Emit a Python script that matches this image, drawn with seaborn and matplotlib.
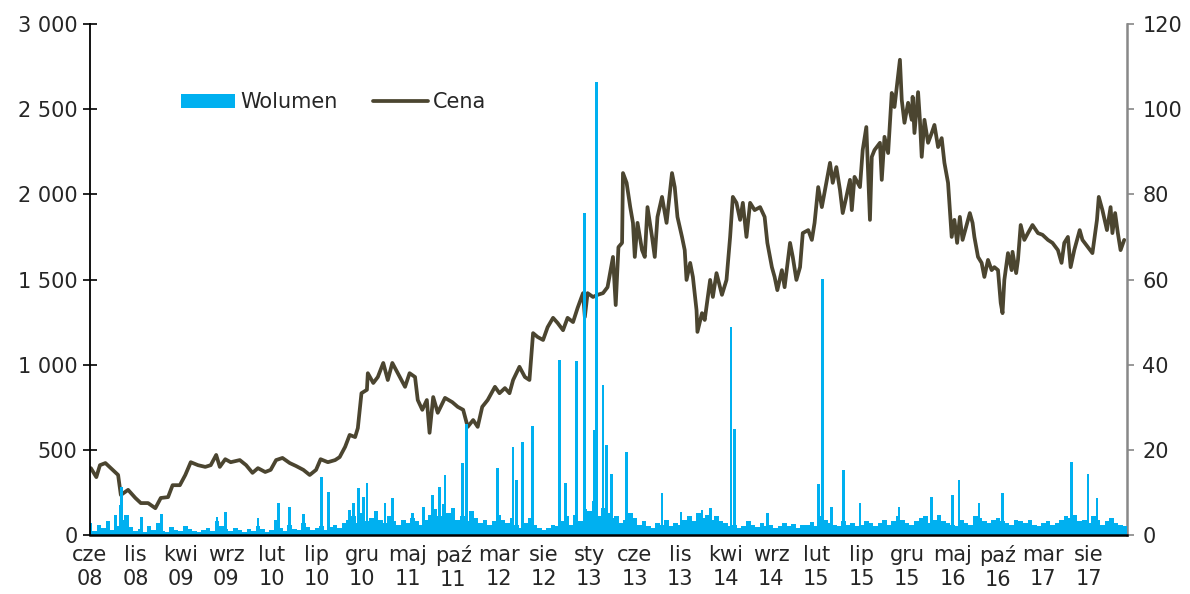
import numpy as np
import matplotlib
matplotlib.use("Agg")
import matplotlib.pyplot as plt
import seaborn as sns
from matplotlib.patches import Patch
from matplotlib.lines import Line2D

# time axis: months counted from June 2008
price_month = [
    0.1, 0.7, 1.1, 1.7, 2.3, 3.1, 3.4, 4.2, 5.0, 5.6, 6.4, 7.2, 7.8, 8.6, 9.1,
    9.9, 10.5, 11.1, 11.9, 12.7, 13.3, 13.9, 14.3, 14.9, 15.5, 16.5, 17.2, 17.9, 18.5, 19.3,
    19.9, 20.5, 21.2, 22.0, 22.7, 23.5, 24.2, 24.9, 25.4, 26.2, 27.0, 27.5, 28.1, 28.6, 29.2,
    29.5, 29.9, 30.5, 30.6, 31.2, 31.7, 32.3, 32.8, 33.3, 33.9, 34.7, 35.2, 35.8, 36.1, 36.6,
    37.1, 37.4, 37.8, 38.3, 39.1, 39.9, 40.5, 41.1, 41.6, 42.2, 42.7, 43.2, 43.8, 44.6, 45.1,
    45.7, 46.2, 46.6, 47.3, 47.9, 48.4, 48.8, 49.3, 49.9, 50.4, 51.0, 51.5, 52.1, 52.6, 53.2,
    53.7, 54.3, 54.5, 54.8, 55.4, 55.9, 56.5, 57.0, 57.6, 57.9, 58.2,
    58.6, 58.7, 59.1, 59.5, 59.8, 60.0, 60.3, 60.8, 61.1, 61.4, 61.9, 62.2, 62.5, 63.0, 63.5,
    64.1, 64.4, 64.7, 65.2, 65.5, 65.7, 66.1, 66.4, 66.8, 66.9, 67.4, 67.7, 68.3, 68.6, 69.0,
    69.6, 70.1, 70.5, 70.8, 71.2, 71.6, 71.9, 72.3, 72.7, 73.2, 73.8, 74.3, 74.6, 75.1, 75.4,
    75.7, 76.2, 76.5, 77.1, 77.4, 77.8, 78.2, 78.5, 79.1, 79.5, 79.8, 80.2, 80.6, 81.1, 81.5,
    81.8, 82.2, 82.6, 82.9, 83.3, 83.7, 83.9, 84.2, 84.8, 85.1, 85.5, 85.9, 86.1, 86.4, 87.0,
    87.2, 87.5, 87.9, 88.3, 88.6,
    88.9, 89.2, 89.4, 89.7, 90.1, 90.5, 90.6, 90.8, 91.2, 91.4, 91.6, 91.9, 92.3, 92.7, 93.0,
    93.4, 93.8, 94.1, 94.5, 94.7, 94.9, 95.2, 95.5, 95.8, 96.1, 96.6, 96.9, 97.2, 97.4, 97.8,
    98.2, 98.5, 98.9, 99.3, 99.6, 100.0, 100.3, 100.5, 100.7, 101.1, 101.5, 101.6, 102.0, 102.2, 102.5,
    102.9, 103.3, 103.8, 104.4, 104.9, 105.5, 106.0, 106.6, 107.0, 107.3, 107.7, 108.0, 108.4, 109.0, 109.3,
    109.9, 110.4, 110.9, 111.1, 111.5, 112.0, 112.4, 112.6, 112.9, 113.2, 113.5, 113.9,
]
price = [
    15.7, 13.6, 16.4, 16.9, 15.7, 14.1, 9.4, 10.6, 8.7, 7.5, 7.5, 6.3, 8.7, 8.9, 11.7,
    11.7, 14.1, 17.1, 16.4, 16.0, 16.4, 18.8, 16.0, 17.8, 17.1, 17.6, 16.4, 14.6, 15.7, 14.8,
    15.3, 17.6, 18.1, 16.9, 16.2, 15.3, 14.1, 15.3, 17.8, 17.1, 17.6, 18.3, 20.7, 23.5, 23.0,
    25.1, 33.3, 34.1, 38.0, 35.7, 37.1, 40.4, 36.4, 40.4, 38.0, 34.8, 38.0, 37.1, 31.7, 29.4,
    31.7, 24.0, 32.4, 28.7, 32.2, 31.2, 30.1, 29.4, 25.4, 27.0, 25.4, 30.1, 31.7, 34.8, 33.3,
    34.5, 33.3, 36.4, 39.5, 37.1, 36.4, 47.4, 46.5, 45.8, 48.8, 51.0, 49.8, 48.1, 51.0, 50.0,
    53.3, 56.8, 51.2, 56.8, 55.9, 56.4, 56.8, 58.2, 65.3, 54.0, 67.6,
    68.6, 85.0, 82.7, 77.0, 73.3, 65.3, 73.3, 66.9, 65.3, 77.0, 70.0, 65.3, 74.7, 79.4, 73.3,
    85.0, 81.7, 74.7, 70.0, 66.9, 59.9, 63.9, 60.6, 52.8, 47.7, 52.1, 50.5, 59.9, 55.9, 61.5,
    56.4, 59.9, 70.0, 79.4, 78.0, 74.0, 78.0, 70.0, 78.0, 76.3, 77.0, 74.7, 68.6, 62.9, 60.6,
    57.5, 62.2, 58.2, 68.6, 65.3, 59.9, 62.9, 70.9, 71.6, 69.3, 73.3, 81.7, 77.0, 82.7, 87.4,
    82.7, 86.4, 81.0, 75.6, 79.4, 83.4, 76.3, 84.1, 81.7, 90.4, 95.8, 74.0, 88.8, 90.4, 92.1,
    83.4, 93.5, 89.7, 103.8, 100.5,
    106.0, 111.6, 102.2, 96.8, 101.5, 97.5, 102.9, 94.4, 104.0, 97.5, 88.8, 97.5, 92.1, 94.4, 96.3,
    91.1, 93.2, 87.4, 82.7, 76.3, 70.0, 74.0, 68.6, 74.7, 69.3, 73.3, 75.6, 73.3, 70.0, 65.3,
    63.9, 60.6, 64.6, 62.2, 62.9, 62.2, 54.5, 52.1, 59.9, 66.2, 62.2, 66.5, 61.5, 64.6, 72.8,
    69.3, 70.9, 72.8, 70.9, 70.5, 69.3, 68.6, 66.9, 63.9, 68.6, 70.0, 62.9, 66.9, 71.6, 69.3,
    67.6, 66.2, 74.0, 79.4, 76.3, 71.6, 77.0, 70.9, 75.6, 70.9, 66.9, 69.3,
]

# background volume, two readings per month (1st and 15th) from June 2008
base_vol = [
    70, 25, 60, 40, 85, 30, 55, 90, 120, 45, 25, 35, 20, 50,
    30, 70, 25, 20, 45, 30, 25, 55, 35, 25, 20, 30, 40, 25, 80, 50, 35, 25, 40, 30, 20, 35, 25, 50,
    35, 20, 30, 90, 40, 25, 60, 35, 30, 70, 45, 30, 40, 55, 30, 45, 60, 40, 70, 90, 110, 70, 130, 85,
    100, 140, 90, 70, 110, 80, 60, 90, 70, 100, 80, 60, 90, 120, 150, 110, 180, 130, 160, 90, 110, 80, 140, 100,
    70, 90, 60, 80, 120, 90, 70, 100, 60, 40, 70, 100, 60, 40, 30, 40, 60, 50, 80, 110, 60, 120, 80, 150,
    140, 200, 110, 160, 130, 100, 110, 70, 90, 130, 100, 60, 80, 50, 40, 70, 60, 90, 50, 70, 60, 90, 110, 80,
    130, 100, 120, 90, 110, 80, 70, 50, 60, 40, 55, 80, 60, 45, 70, 50, 60, 40, 55, 70, 50, 65, 40, 60,
    60, 75, 50, 110, 90, 70, 60, 50, 80, 60, 70, 50, 60, 80, 70, 50, 70, 90, 60, 80, 110, 90, 70, 60,
    80, 100, 110, 70, 90, 120, 80, 70, 60, 50, 90, 70, 60, 110, 100, 80, 70, 90, 100, 80, 70, 60, 90, 80,
    70, 90, 60, 50, 70, 80, 60, 70, 90, 110, 100, 120, 80, 90, 70, 110, 90, 60, 80, 100, 70, 60, 50,
]

# single-session volume spikes
spike_month = [
    2.8, 3.3, 3.5, 5.7, 7.9, 14.0, 14.9, 18.5, 20.8, 22.0, 23.5, 25.5, 26.3, 28.6, 29.0,
    29.6, 30.1, 30.5, 32.5, 33.3, 35.5, 36.7, 37.7, 38.5, 39.1, 41.0, 41.5, 44.9, 46.6, 47.0,
    47.6, 48.7, 51.7, 52.4, 53.6, 54.5, 55.5, 55.8, 56.5, 56.9, 57.4, 59.1, 63.0, 65.1, 67.4,
    68.3, 70.6, 71.0, 74.6, 80.2, 80.7, 81.7, 83.0, 84.8, 89.1, 92.7, 95.0, 95.7, 97.9, 100.5,
    108.1, 109.9, 110.9,
]
spike_vol = [
    117, 176, 282, 106, 123, 106, 135, 100, 188, 164, 123, 340, 252, 147, 188,
    276, 223, 305, 188, 217, 129, 164, 235, 282, 352, 423, 650, 393, 517, 323,
    546, 640, 1030, 305, 1020, 1890, 616, 2660, 881, 528, 358, 487, 247, 135, 147,
    158, 1221, 622, 129, 300, 1503, 164, 382, 188, 164, 223, 235, 323, 188, 247,
    429, 358, 217,
]

tick_labels = ["cze\n08", "lis\n08", "kwi\n09", "wrz\n09", "lut\n10", "lip\n10",
               "gru\n10", "maj\n11", "paź\n11", "mar\n12", "sie\n12", "sty\n13",
               "cze\n13", "lis\n13", "kwi\n14", "wrz\n14", "lut\n15", "lip\n15",
               "gru\n15", "maj\n16", "paź\n16", "mar\n17", "sie\n17"]

vol_color = "#00B0F0"
price_color = "#4B4530"

sns.set_style("white")
plt.rcParams["font.family"] = ["DejaVu Sans"]

fig = plt.figure(figsize=(11.9, 5.94), dpi=100)
ax = fig.add_axes([0.0756, 0.0993, 0.8714, 0.8603])
ax2 = ax.twinx()

# price line on the right axis
sns.lineplot(x=price_month, y=price, ax=ax2, color=price_color, linewidth=2.7,
             estimator=None, sort=False)

# volume bars on the left axis
base_x = np.arange(len(base_vol)) * 0.5
ax.bar(base_x, base_vol, width=0.5, color=vol_color, linewidth=0)
ax.bar(spike_month, spike_vol, width=0.3, color=vol_color, linewidth=0)

ax.set_zorder(ax2.get_zorder() + 1)
ax.patch.set_visible(False)

ax.set_xlim(0, 114.2)
ax.set_ylim(0, 3000)
ax2.set_ylim(0, 120)

ax.set_xticks(np.arange(0, 5 * len(tick_labels), 5))
ax.set_xticklabels(tick_labels)
ax.set_yticks(np.arange(0, 3001, 500))
ax.set_yticklabels([f"{v:,}".replace(",", " ") for v in range(0, 3001, 500)])
ax2.set_yticks(np.arange(0, 121, 20))

ax.tick_params(axis="x", direction="inout", length=9, width=1.2, color="black",
               labelsize=15, pad=3)
ax.tick_params(axis="y", direction="inout", length=10, width=1.2, color="black",
               labelsize=15, pad=4)
ax2.tick_params(axis="y", direction="out", length=5, width=1.2, color="#888888",
                labelsize=15, pad=6)

for s in ["top", "right"]:
    ax.spines[s].set_visible(False)
for s in ["top", "left", "bottom"]:
    ax2.spines[s].set_visible(False)
ax.spines["left"].set_color("black")
ax.spines["left"].set_linewidth(1.3)
ax.spines["bottom"].set_color("black")
ax.spines["bottom"].set_linewidth(1.8)
ax2.spines["right"].set_color("#888888")
ax2.spines["right"].set_linewidth(1.8)
ax.set_xlabel("")
ax.set_ylabel("")
ax2.set_ylabel("")

handles = [Patch(facecolor=vol_color, edgecolor="none"),
           Line2D([], [], color=price_color, linewidth=2.7)]
ax.legend(handles, ["Wolumen", "Cena"], ncol=2, frameon=False, loc="center left",
          bbox_to_anchor=(0.070, 0.847), fontsize=15, handlelength=2.6,
          handleheight=0.65, handletextpad=0.25, columnspacing=1.7)

fig.savefig("out.png", dpi=100)
